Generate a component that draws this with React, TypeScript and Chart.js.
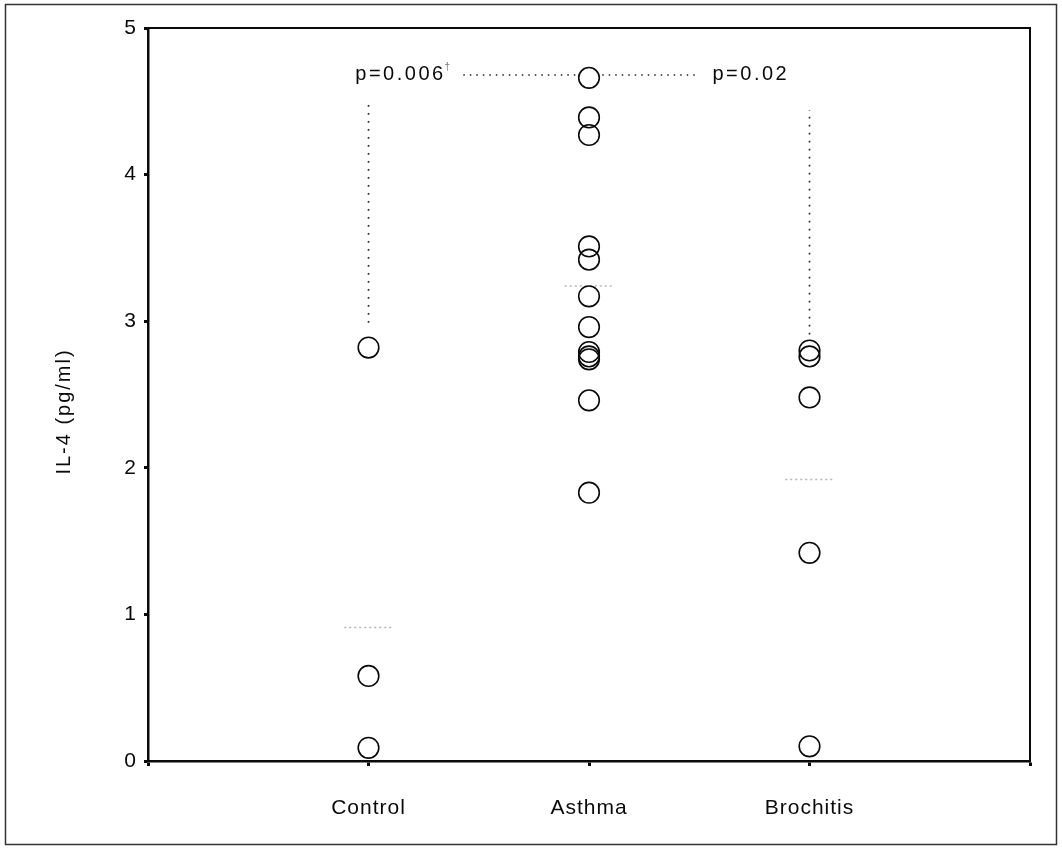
import { useEffect, useRef } from "react";
import { Chart, registerables } from "chart.js";

Chart.register(...registerables);

// ---- data ----
const categories = ["Control", "Asthma", "Brochitis"];
const categoryPositions = [1, 2, 3];
const controlValues = [2.82, 0.58, 0.09];
const asthmaValues = [4.66, 4.39, 4.27, 3.51, 3.42, 3.17, 2.96, 2.79, 2.76, 2.74, 2.46, 1.83];
const brochitisValues = [2.8, 2.76, 2.48, 1.42, 0.1];
const groupMeans = [0.91, 3.24, 1.92];
const yTickValues = [0, 1, 2, 3, 4, 5];
const pLabels = ["p=0.006", "p=0.02"];
const pLabelAnchorX = [0.94, 2.56];
const sigLevel = 4.68;
const controlBracket = [2.99, 4.51];
const brochitisBracket = [2.91, 4.44];
const sigLeftSegment = [1.43, 1.94];
const sigRightSegment = [2.06, 2.49];
const meanHalfWidth = 0.11;
const yTitle = "IL-4 (pg/ml)";

const FONT = "'Liberation Sans', Arial, Helvetica, sans-serif";
const INK = "#0a0a0a";

const pts = (x: number, vals: number[]) => vals.map((v) => ({ x, y: v }));

const decorPlugin = {
  id: "decor",
  beforeDraw(chart: any) {
    const ctx = chart.ctx as CanvasRenderingContext2D;
    ctx.save();
    ctx.fillStyle = "#fff";
    ctx.fillRect(0, 0, chart.width, chart.height);
    ctx.strokeStyle = "#333";
    ctx.lineWidth = 1.5;
    ctx.strokeRect(5.5, 4.5, 1051, 840);
    ctx.restore();
    (ctx as any).letterSpacing = "1px";
  },
  afterDraw(chart: any) {
    const ctx = chart.ctx as CanvasRenderingContext2D;
    const { chartArea, scales } = chart;
    const xs = scales.x;
    const ys = scales.y;
    ctx.save();
    // plot box
    ctx.strokeStyle = INK;
    ctx.lineWidth = 2;
    ctx.strokeRect(chartArea.left, chartArea.top, chartArea.right - chartArea.left, chartArea.bottom - chartArea.top);

    // y-axis title
    ctx.fillStyle = INK;
    ctx.font = `20px ${FONT}`;
    (ctx as any).letterSpacing = "2px";
    ctx.textAlign = "center";
    ctx.textBaseline = "middle";
    ctx.save();
    ctx.translate(64, (chartArea.top + chartArea.bottom) / 2 + 17);
    ctx.rotate(-Math.PI / 2);
    ctx.fillText(yTitle, 0, 0);
    ctx.restore();

    // p-value labels
    ctx.textAlign = "left";
    (ctx as any).letterSpacing = "2.5px";
    pLabels.forEach((label, i) => {
      const px = xs.getPixelForValue(pLabelAnchorX[i]);
      const py = ys.getPixelForValue(sigLevel);
      ctx.font = `20px ${FONT}`;
      ctx.fillStyle = INK;
      ctx.fillText(label, px, py);
      if (i === 0) {
        const w = ctx.measureText(label).width;
        ctx.font = `10px ${FONT}`;
        (ctx as any).letterSpacing = "0px";
        ctx.fillStyle = "#777";
        ctx.fillText("†", px + w - 1, py - 8);
        (ctx as any).letterSpacing = "2.5px";
      }
    });
    ctx.restore();
    (ctx as any).letterSpacing = "0px";
  },
};

export default function App() {
  const ref = useRef<HTMLCanvasElement | null>(null);

  useEffect(() => {
    document.body.style.margin = "0";
    document.body.style.overflow = "hidden";
    if (!ref.current) return;

    const pointStyle = {
      type: "scatter" as const,
      showLine: false,
      pointRadius: 10.3,
      pointBorderWidth: 1.6,
      pointBorderColor: INK,
      pointBackgroundColor: "rgba(0,0,0,0)",
      order: 0,
    };
    const dotted = (data: any[], dash: number[], color: string, width: number) => ({
      type: "scatter" as const,
      data,
      showLine: true,
      spanGaps: false,
      pointRadius: 0,
      borderColor: color,
      borderWidth: width,
      borderDash: dash,
      order: 2,
    });

    const chart = new Chart(ref.current, {
      type: "scatter",
      data: {
        datasets: [
          { ...pointStyle, label: categories[0], data: pts(categoryPositions[0], controlValues) },
          { ...pointStyle, label: categories[1], data: pts(categoryPositions[1], asthmaValues) },
          { ...pointStyle, label: categories[2], data: pts(categoryPositions[2], brochitisValues) },
          ...groupMeans.map((m, i) =>
            dotted(
              [
                { x: categoryPositions[i] - meanHalfWidth, y: m },
                { x: categoryPositions[i] + meanHalfWidth, y: m },
              ],
              [2, 3],
              "#b5b5b5",
              1.5
            )
          ),
          dotted(
            [
              { x: categoryPositions[0], y: controlBracket[0] },
              { x: categoryPositions[0], y: controlBracket[1] },
            ],
            [1.6, 6.4],
            "#222",
            1.6
          ),
          dotted(
            [
              { x: categoryPositions[2], y: brochitisBracket[0] },
              { x: categoryPositions[2], y: brochitisBracket[1] },
            ],
            [1.6, 6.4],
            "#222",
            1.6
          ),
          dotted(
            [
              { x: sigLeftSegment[0], y: sigLevel },
              { x: sigLeftSegment[1], y: sigLevel },
              { x: 2, y: null },
              { x: sigRightSegment[0], y: sigLevel },
              { x: sigRightSegment[1], y: sigLevel },
            ],
            [1.5, 5],
            "#222",
            1.5
          ),
        ],
      },
      options: {
        responsive: false,
        maintainAspectRatio: false,
        animation: false,
        devicePixelRatio: 1,
        layout: { padding: { left: 0, top: 28, right: 32, bottom: 7 } },
        plugins: {
          legend: { display: false },
          tooltip: { enabled: false },
          title: { display: false },
        },
        scales: {
          x: {
            type: "linear",
            min: 0,
            max: 4,
            afterFit: (s: any) => {
              s.height = 80;
            },
            ticks: {
              stepSize: 1,
              autoSkip: false,
              maxRotation: 0,
              padding: 30,
              color: INK,
              font: { family: FONT, size: 21 },
              callback: (v: any) => {
                const i = categoryPositions.indexOf(Number(v));
                return i >= 0 ? categories[i] : "";
              },
            },
            grid: {
              display: true,
              drawOnChartArea: false,
              drawTicks: true,
              tickLength: 5,
              tickWidth: 3,
              tickColor: INK,
            },
            border: { display: true, color: INK, width: 2.5 },
          },
          y: {
            type: "linear",
            min: 0,
            max: 5,
            afterFit: (s: any) => {
              s.width = 148;
            },
            afterBuildTicks: (s: any) => {
              s.ticks = yTickValues.map((v) => ({ value: v }));
            },
            ticks: {
              stepSize: 1,
              padding: 7,
              color: INK,
              font: { family: FONT, size: 21 },
            },
            grid: {
              display: true,
              drawOnChartArea: false,
              drawTicks: true,
              tickLength: 4,
              tickWidth: 3,
              tickColor: INK,
            },
            border: { display: true, color: INK, width: 2.5 },
          },
        },
      },
      plugins: [decorPlugin],
    } as any);

    return () => chart.destroy();
  }, []);

  return (
    <div style={{ position: "absolute", left: 0, top: 0, width: 1062, height: 848, background: "#fff" }}>
      <canvas ref={ref} width={1062} height={848} style={{ display: "block", width: 1062, height: 848 }} />
    </div>
  );
}
